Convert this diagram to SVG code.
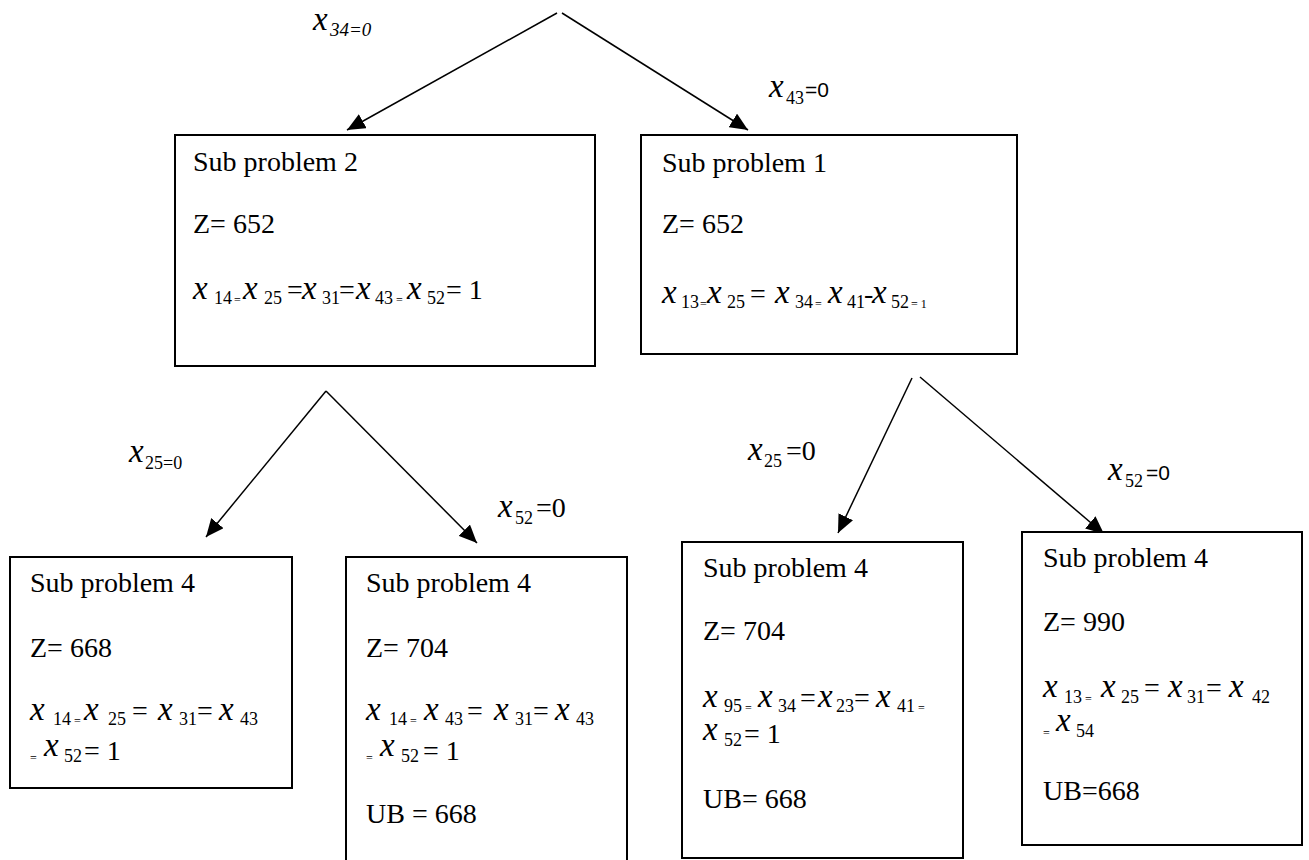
<svg xmlns="http://www.w3.org/2000/svg" width="1309" height="860" viewBox="0 0 1309 860">
<defs>
<marker id="ah" markerUnits="userSpaceOnUse" markerWidth="19" markerHeight="16" refX="18" refY="8" orient="auto">
<path d="M0,0 L18,8 L0,16 z" fill="#000"/>
</marker>
<style>
text{font-family:'Liberation Serif','Tinos','DejaVu Serif','Noto Serif',serif;fill:#000}
.box{fill:#fff;stroke:#000;stroke-width:2}
.t{font-size:28px}
.tb{font-size:28px}
.v{font-style:italic;font-size:33px}
.s{font-size:18px}
.e{font-size:12px}
.lbl{font-size:28px}
.cal{font-family:'Liberation Sans','Arimo',Arial,sans-serif;font-size:21px}
.calsub{font-size:18px}
.con{stroke:#000;stroke-width:1.5;fill:none;marker-end:url(#ah)}
</style>
</defs>
<rect width="1309" height="860" fill="#fff"/>

<g id="connectors">
<line class="con" x1="557" y1="13" x2="347" y2="130"/>
<line class="con" x1="562" y1="13" x2="748" y2="130"/>
<line class="con" x1="326" y1="391" x2="206" y2="537"/>
<line class="con" x1="326" y1="391" x2="477" y2="543"/>
<line class="con" x1="912" y1="378" x2="838" y2="533"/>
<line class="con" x1="920" y1="377" x2="1104" y2="534"/>
</g>

<g id="labels">
<text class="lbl"><tspan class="v" x="313" y="30">x</tspan><tspan x="330" y="36" style="font-style:italic;font-size:19px">34=0</tspan></text>
<text class="lbl"><tspan class="v" x="769" y="97">x</tspan><tspan class="calsub" x="786" y="104">43</tspan><tspan class="cal" x="805" y="97">=0</tspan></text>
<text class="lbl"><tspan class="v" x="129" y="462">x</tspan><tspan class="calsub" x="145" y="469">25=0</tspan></text>
<text class="lbl"><tspan class="v" x="498" y="517">x</tspan><tspan class="calsub" x="515" y="524">52</tspan><tspan x="536" y="517">=0</tspan></text>
<text class="lbl"><tspan class="v" x="748" y="460">x</tspan><tspan class="calsub" x="764" y="467">25</tspan><tspan x="786" y="460">=0</tspan></text>
<text class="lbl"><tspan class="v" x="1108" y="480">x</tspan><tspan class="calsub" x="1125" y="487">52</tspan><tspan class="cal" x="1146" y="480">=0</tspan></text>
</g>

<g id="sp2">
<rect class="box" x="175" y="135" width="420" height="231"/>
<text class="t" x="193" y="171">Sub problem 2</text>
<text class="t" x="193" y="233">Z= 652</text>
<text class="t"><tspan class="v" x="193" y="299">x</tspan><tspan class="s" x="214" y="304">14</tspan><tspan class="e" x="234" y="304">=</tspan><tspan class="v" x="243" y="299">x</tspan><tspan class="s" x="264" y="304">25</tspan><tspan x="287" y="299">=</tspan><tspan class="v" x="302" y="299">x</tspan><tspan class="s" x="322" y="304">31</tspan><tspan x="339" y="299">=</tspan><tspan class="v" x="356" y="299">x</tspan><tspan class="s" x="375" y="304">43</tspan><tspan class="e" x="396" y="304">=</tspan><tspan class="v" x="407" y="299">x</tspan><tspan class="s" x="427" y="304">52</tspan><tspan x="446" y="299">= 1</tspan></text>
</g>

<g id="sp1">
<rect class="box" x="641" y="135" width="376" height="219"/>
<text class="t" x="662" y="172">Sub problem 1</text>
<text class="t" x="662" y="233">Z= 652</text>
<text class="t"><tspan class="v" x="662" y="303">x</tspan><tspan class="s" x="681" y="308">13</tspan><tspan class="e" x="700" y="308">=</tspan><tspan class="v" x="707" y="303">x</tspan><tspan class="s" x="727" y="308">25</tspan><tspan x="750" y="303">=</tspan><tspan class="v" x="775" y="303">x</tspan><tspan class="s" x="795" y="308">34</tspan><tspan class="e" x="815" y="308">=</tspan><tspan class="v" x="828" y="303">x</tspan><tspan class="s" x="847" y="308">41</tspan><tspan x="864" y="303">-</tspan><tspan class="v" x="872" y="303">x</tspan><tspan class="s" x="891" y="308">52</tspan><tspan class="e" x="911" y="308">= 1</tspan></text>
</g>

<g id="sp4a">
<rect class="box" x="10" y="557" width="282" height="231"/>
<text class="tb" x="30" y="592">Sub problem 4</text>
<text class="tb" x="30" y="657">Z= 668</text>
<text class="tb"><tspan class="v" x="30" y="720">x</tspan><tspan class="s" x="53" y="725">14</tspan><tspan class="e" x="74" y="725">=</tspan><tspan class="v" x="84" y="720">x</tspan><tspan class="s" x="108" y="725">25</tspan><tspan x="132" y="720">=</tspan><tspan class="v" x="158" y="720">x</tspan><tspan class="s" x="179" y="725">31</tspan><tspan x="197" y="720">=</tspan><tspan class="v" x="219" y="720">x</tspan><tspan class="s" x="240" y="725">43</tspan></text>
<text class="tb"><tspan class="e" x="30" y="762">=</tspan><tspan class="v" x="44" y="756">x</tspan><tspan class="s" x="64" y="762">52</tspan><tspan x="84" y="760">= 1</tspan></text>
</g>

<g id="sp4b">
<rect class="box" x="346" y="557" width="281" height="320"/>
<text class="tb" x="366" y="592">Sub problem 4</text>
<text class="tb" x="366" y="657">Z= 704</text>
<text class="tb"><tspan class="v" x="366" y="720">x</tspan><tspan class="s" x="389" y="725">14</tspan><tspan class="e" x="410" y="725">=</tspan><tspan class="v" x="424" y="720">x</tspan><tspan class="s" x="445" y="725">43</tspan><tspan x="467" y="720">=</tspan><tspan class="v" x="494" y="720">x</tspan><tspan class="s" x="515" y="725">31</tspan><tspan x="533" y="720">=</tspan><tspan class="v" x="555" y="720">x</tspan><tspan class="s" x="576" y="725">43</tspan></text>
<text class="tb"><tspan class="e" x="366" y="762">=</tspan><tspan class="v" x="380" y="756">x</tspan><tspan class="s" x="401" y="762">52</tspan><tspan x="423" y="760">= 1</tspan></text>
<text class="tb" x="366" y="823">UB = 668</text>
</g>

<g id="sp4c">
<rect class="box" x="682" y="542" width="281" height="316"/>
<text class="tb" x="703" y="577">Sub problem 4</text>
<text class="tb" x="703" y="640">Z= 704</text>
<text class="tb"><tspan class="v" x="703" y="707">x</tspan><tspan class="s" x="724" y="712">95</tspan><tspan class="e" x="745" y="712">=</tspan><tspan class="v" x="758" y="707">x</tspan><tspan class="s" x="778" y="712">34</tspan><tspan x="800" y="707">=</tspan><tspan class="v" x="818" y="707">x</tspan><tspan class="s" x="836" y="712">23</tspan><tspan x="854" y="707">=</tspan><tspan class="v" x="876" y="707">x</tspan><tspan class="s" x="897" y="712">41</tspan><tspan class="e" x="918" y="712">=</tspan></text>
<text class="tb"><tspan class="v" x="703" y="740">x</tspan><tspan class="s" x="724" y="746">52</tspan><tspan x="744" y="743">= 1</tspan></text>
<text class="tb" x="703" y="808">UB= 668</text>
</g>

<g id="sp4d">
<rect class="box" x="1022" y="532" width="280" height="313"/>
<text class="tb" x="1043" y="567">Sub problem 4</text>
<text class="tb" x="1043" y="631">Z= 990</text>
<text class="tb"><tspan class="v" x="1043" y="697">x</tspan><tspan class="s" x="1064" y="703">13</tspan><tspan class="e" x="1085" y="703">=</tspan><tspan class="v" x="1101" y="697">x</tspan><tspan class="s" x="1121" y="703">25</tspan><tspan x="1144" y="697">=</tspan><tspan class="v" x="1168" y="697">x</tspan><tspan class="s" x="1187" y="703">31</tspan><tspan x="1206" y="697">=</tspan><tspan class="v" x="1229" y="697">x</tspan><tspan class="s" x="1252" y="703">42</tspan></text>
<text class="tb"><tspan class="e" x="1043" y="737">=</tspan><tspan class="v" x="1056" y="731">x</tspan><tspan class="s" x="1076" y="737">54</tspan></text>
<text class="tb" x="1043" y="800">UB=668</text>
</g>
</svg>
